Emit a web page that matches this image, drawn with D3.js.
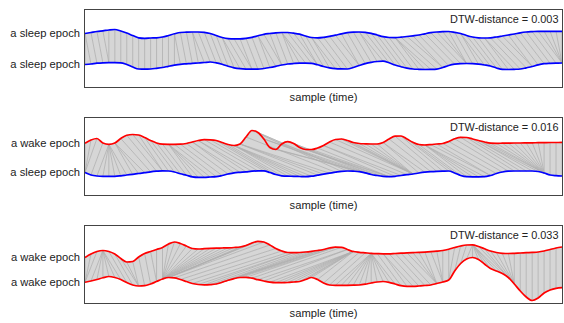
<!DOCTYPE html>
<html>
<head>
<meta charset="utf-8">
<script src="https://cdn.jsdelivr.net/npm/d3@7"></script>
<style>
  body { margin: 0; background: #fff; }
  svg { display: block; }
</style>
</head>
<body>
<div id="chart"></div>
<script>
// amplitude of each epoch, one value per sample (arbitrary units)
const sleepA = [1.0, 2.0, 3.0, 3.7, 4.5, 5.0, 3.5, 1.5, -1.0, -3.3,
  -3.8, -3.5, -3.3, -2.5, -1.0, 0.7, 2.0, 2.3, 2.5, 2.5,
  2.2, 1.0, -1.0, -3.0, -4.1, -4.3, -4.3, -3.8, -2.8, -1.3,
  0.2, 1.0, 1.7, 2.0, 2.0, 1.3, 0.3, -1.5, -3.0, -3.3,
  -2.8, -1.8, -0.7, 0.7, 1.8, 2.3, 2.5, 2.2, 1.2, -0.5,
  -2.2, -3.0, -3.1, -2.7, -2.0, -1.3, -0.5, 0.7, 1.8, 2.5,
  2.9, 3.0, 2.2, 1.0, -1.0, -2.5, -3.3, -3.5, -3.3, -2.5,
  -1.5, -0.5, 0.5, 1.7, 2.5, 2.9, 3.2, 3.2, 3.2, 3.2, 3.2];

const sleepB = [1.0, 1.5, 2.3, 2.7, 2.8, 2.8, 2.7, 1.0, -1.5, -3.5,
  -3.7, -3.5, -2.8, -2.0, -0.8, 0.3, 1.2, 1.7, 2.2, 2.5,
  3.0, 3.5, 2.7, 1.2, -0.8, -2.3, -3.2, -3.6, -3.7, -3.7,
  -3.0, -2.0, -0.8, 0.5, 1.5, 2.0, 2.3, 2.3, 2.1, 0.7,
  -1.0, -2.3, -3.1, -3.4, -3.5, -2.0, 0.0, 1.9, 3.2, 4.0,
  4.3, 2.7, 0.5, -1.2, -2.7, -3.5, -3.8, -4.0, -3.9, -3.6,
  -2.0, 0.0, 1.3, 1.9, 2.0, 1.8, 1.3, 0.5, -0.5, -2.5,
  -3.9, -4.0, -3.8, -3.5, -2.3, -1.0, 0.7, 1.8, 2.2, 2.4, 2.5];

const wakeA = [-0.8, 2.5, 4.0, -0.5, -1.8, -0.5, 4.0, 7.2, 8.0, 7.5,
  5.0, 2.0, -0.5, -1.7, -1.8, -1.8, -1.7, -1.0, 0.5, 2.0,
  2.9, 2.7, 2.0, 0.0, -2.0, -3.0, -1.5, 5.5, 12.0, 10.0,
  3.5, -5.0, -7.0, -1.5, 0.8, -1.0, -5.0, -7.0, -7.0, -5.5,
  -3.0, 0.5, 3.0, 3.5, 2.0, 0.0, -1.0, -1.3, -1.5, -1.5,
  0.0, 3.5, 6.3, 6.5, 3.5, 0.2, -2.0, -2.5, -2.1, -1.5,
  -1.0, 1.0, 3.7, 5.2, 5.0, 3.5, 2.0, 0.5, -0.7, -0.8,
  -0.7, -0.6, -0.5, -0.5, -0.4, -0.3, -0.2, -0.1, 0.0, 0.0, 0.2];

const sleepC = [1.0, -1.5, -2.5, -2.8, -2.8, -2.8, -2.3, -1.5, -0.8, 0.0,
  0.8, 1.7, 2.3, 2.7, 2.5, 1.5, -0.3, -1.7, -3.3, -3.8,
  -3.8, -3.5, -3.2, -2.0, -0.5, 0.7, 1.2, 1.7, 2.3, 2.6,
  2.7, 1.0, -1.0, -2.3, -2.7, -2.8, -3.0, -3.2, -2.7, -1.7,
  -0.7, 0.3, 1.3, 2.2, 2.5, 2.3, 1.9, 0.7, -1.0, -2.0,
  -2.8, -3.2, -2.8, -2.0, -1.2, -0.5, 0.5, 1.3, 1.8, 2.1,
  2.3, 2.5, 0.5, -2.0, -3.2, -3.3, -3.3, -3.2, -2.0, 0.0,
  1.5, 2.3, 2.5, 2.5, 2.5, 2.5, 2.0, 0.5, -1.5, -2.2, -2.5];

const wakeB = [-7.0, -3.5, -1.0, 0.0, -1.0, -3.5, -8.0, -11.5, -11.0, -6.5,
  -3.0, -1.0, 1.0, 3.0, 6.5, 8.5, 7.0, 4.5, 2.0, 1.5,
  1.8, 2.1, 2.3, 2.5, 2.7, 3.0, 3.5, 5.0, 7.5, 9.2,
  8.5, 5.5, 2.0, -0.5, -2.0, -2.2, -2.0, -1.5, -0.8, 0.0,
  1.0, 2.5, 3.3, 3.2, 1.0, -1.0, -1.8, -2.3, -2.8, -3.1,
  -3.3, -3.3, -3.0, -2.7, -2.4, -2.1, -1.9, -1.6, -1.2, -0.7,
  0.0, 1.3, 3.0, 4.5, 5.5, 5.7, 4.0, 1.7, -0.5, -2.0,
  -2.8, -3.0, -2.8, -2.5, -2.2, -1.9, -1.5, -0.5, 1.0, 2.5, 3.5];

const wakeC = [-0.8, 0.5, 2.0, 3.7, 5.0, 4.0, 2.0, -1.0, -3.5, -4.5,
  -4.2, -2.5, 0.0, 2.5, 4.0, 3.7, 2.0, 0.0, -2.0, -3.0,
  -3.3, -3.1, -2.5, -0.8, 1.2, 2.9, 4.0, 4.2, 3.3, 1.8,
  0.5, -0.7, -1.2, -1.2, -1.0, -0.5, 0.0, 2.0, 4.0, 2.0,
  -1.5, -3.5, -3.8, -3.8, -3.8, -3.7, -3.5, -2.7, -1.5, -0.5,
  0.0, -0.8, -2.5, -4.2, -4.8, -4.8, -4.5, -4.0, -3.5, -2.0,
  -0.5, 1.5, 10.5, 18.0, 22.5, 24.0, 22.0, 17.5, 13.0, 10.5,
  8.0, 4.0, -2.5, -9.5, -15.5, -19.0, -16.5, -11.5, -8.5, -6.8, -6.2];

const upperSeries = [sleepA, wakeA, wakeB];
const lowerSeries = [sleepB, sleepC, wakeC];
const upperLabels = ['a sleep epoch', 'a wake epoch', 'a wake epoch'];
const lowerLabels = ['a sleep epoch', 'a sleep epoch', 'a wake epoch'];
const upperKinds = ['sleep', 'wake', 'wake'];
const lowerKinds = ['sleep', 'sleep', 'wake'];
const distances = ['0.003', '0.016', '0.033'];

const width = 564, height = 323;
const left = 84.5, right = 562.5;
const panelTops = [9.5, 117.5, 225.5];
const panelH = 78;
const shift = 14;    // upper trace drawn above the middle
const drop = 17;     // lower trace drawn below the middle
const colorMap = { sleep: '#0000ff', wake: '#ff0000' };
const font = 'Liberation Sans, Arial, Helvetica, sans-serif';

function dtwPath(a, b) {
  const n = a.length, m = b.length;
  const D = Array.from({ length: n }, () => new Float64Array(m).fill(Infinity));
  for (let i = 0; i < n; i++) {
    for (let j = 0; j < m; j++) {
      const cost = Math.abs(a[i] - b[j]);
      if (i === 0 && j === 0) { D[i][j] = cost; continue; }
      let best = Infinity;
      if (i > 0) best = Math.min(best, D[i - 1][j]);
      if (j > 0) best = Math.min(best, D[i][j - 1]);
      if (i > 0 && j > 0) best = Math.min(best, D[i - 1][j - 1]);
      D[i][j] = cost + best;
    }
  }
  const path = [[n - 1, m - 1]];
  let i = n - 1, j = m - 1;
  while (i > 0 || j > 0) {
    if (i === 0) j--;
    else if (j === 0) i--;
    else {
      const d = D[i - 1][j - 1], u = D[i - 1][j], l = D[i][j - 1];
      if (d <= u && d <= l) { i--; j--; }
      else if (u <= l) i--;
      else j--;
    }
    path.push([i, j]);
  }
  return path.reverse();
}

const svg = d3.select('#chart')
  .append('svg')
  .attr('width', width)
  .attr('height', height)
  .attr('viewBox', [0, 0, width, height]);

panelTops.forEach((top, p) => {
  const up = upperSeries[p], lo = lowerSeries[p];

  const x = d3.scaleLinear().domain([0, up.length - 1]).range([left + 0.5, right - 0.5]);
  const y = d3.scaleLinear().domain([-panelH / 2, panelH / 2]).range([top + panelH, top]);
  const yUp = v => y(v + shift);
  const yLo = v => y(v - drop);

  const g = svg.append('g');
  const path = dtwPath(up, lo);

  // light band between successive alignment links
  const quads = d3.pairs(path);
  g.append('g')
    .selectAll('path')
    .data(quads)
    .join('path')
    .attr('d', ([a, b]) => `M${x(a[0])},${yUp(up[a[0]])}L${x(b[0])},${yUp(up[b[0]])}` +
      `L${x(b[1])},${yLo(lo[b[1]])}L${x(a[1])},${yLo(lo[a[1]])}Z`)
    .attr('fill', '#d6d6d6')
    .attr('stroke', '#d6d6d6')
    .attr('stroke-width', 0.5);

  g.append('g')
    .selectAll('line')
    .data(path)
    .join('line')
    .attr('x1', d => x(d[0]))
    .attr('y1', d => yUp(up[d[0]]))
    .attr('x2', d => x(d[1]))
    .attr('y2', d => yLo(lo[d[1]]))
    .attr('stroke', '#b0b0b0')
    .attr('stroke-width', 0.8);

  const lineUp = d3.line().x((d, i) => x(i)).y(d => yUp(d)).curve(d3.curveMonotoneX);
  const lineLo = d3.line().x((d, i) => x(i)).y(d => yLo(d)).curve(d3.curveMonotoneX);

  g.append('path')
    .attr('d', lineUp(up))
    .attr('fill', 'none')
    .attr('stroke', colorMap[upperKinds[p]])
    .attr('stroke-width', 1.7);

  g.append('path')
    .attr('d', lineLo(lo))
    .attr('fill', 'none')
    .attr('stroke', colorMap[lowerKinds[p]])
    .attr('stroke-width', 1.7);

  g.append('rect')
    .attr('x', left)
    .attr('y', top)
    .attr('width', right - left)
    .attr('height', panelH)
    .attr('fill', 'none')
    .attr('stroke', '#444')
    .attr('stroke-width', 1);

  const txt = g.append('g')
    .attr('font-family', font)
    .attr('font-size', '11.2px')
    .attr('fill', '#222');

  txt.append('text')
    .attr('x', 80)
    .attr('y', yUp(up[0]))
    .attr('dy', '0.35em')
    .attr('text-anchor', 'end')
    .text(upperLabels[p]);

  txt.append('text')
    .attr('x', 80)
    .attr('y', yLo(lo[0]))
    .attr('dy', '0.35em')
    .attr('text-anchor', 'end')
    .text(lowerLabels[p]);

  txt.append('text')
    .attr('x', right - 4)
    .attr('y', top + 13)
    .attr('text-anchor', 'end')
    .attr('font-size', '10.9px')
    .text(`DTW-distance = ${distances[p]}`);

  txt.append('text')
    .attr('x', (left + right) / 2)
    .attr('y', top + panelH + 13)
    .attr('text-anchor', 'middle')
    .text('sample (time)');
});
</script>
</body>
</html>
